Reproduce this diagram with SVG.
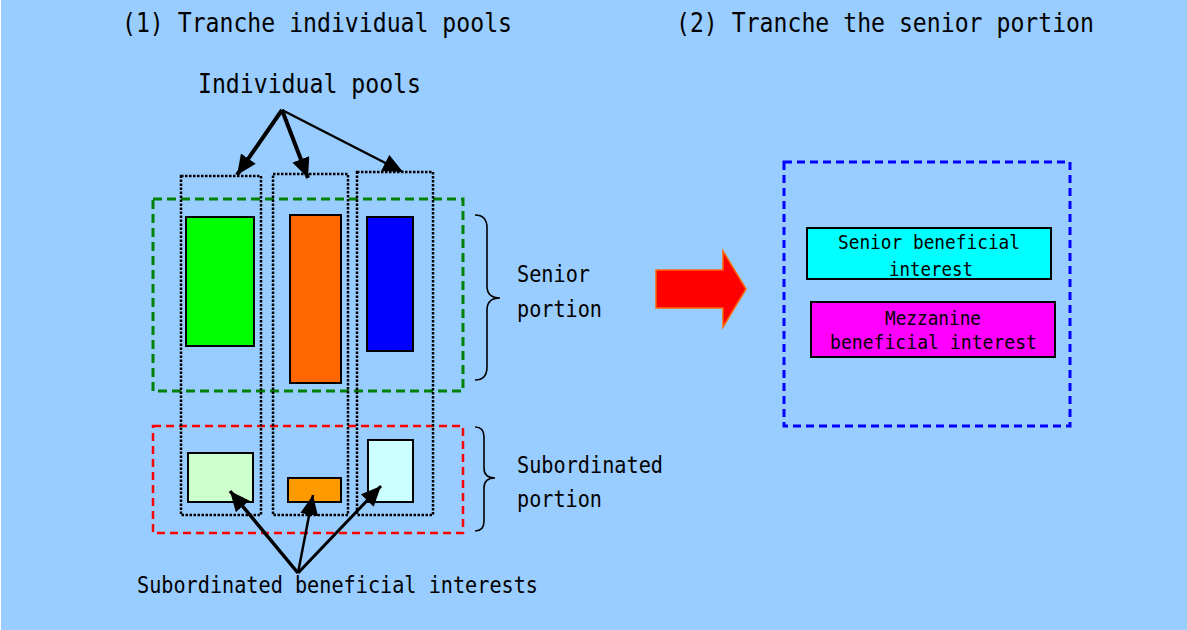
<svg xmlns="http://www.w3.org/2000/svg" width="1187" height="630" viewBox="0 0 1187 630">
<style>
text{font-family:"DejaVu Sans Mono","Liberation Mono",monospace;fill:#000}
.t1{font-size:26.5px}
.t2{font-size:23.5px}
.t3{font-size:20px}
.pool{fill:none;stroke:#000;stroke-width:2.5;stroke-dasharray:2.5 1.5}
.box{stroke:#000;stroke-width:2}
.arr{stroke:#000;fill:none}
.brace{fill:none;stroke:#000;stroke-width:1.6}
</style>
<defs>
<marker id="ah" markerUnits="userSpaceOnUse" markerWidth="22" markerHeight="20" refX="20" refY="9" orient="auto">
<path d="M0,0 L20,9 L0,18 z" fill="#000"/>
</marker>
</defs>
<rect x="1" y="0" width="1186" height="630" fill="#99CCFF"/>
<g id="titles">
<text class="t1" x="122" y="32" textLength="390" lengthAdjust="spacingAndGlyphs">(1) Tranche individual pools</text>
<text class="t1" x="676" y="32" textLength="418" lengthAdjust="spacingAndGlyphs">(2) Tranche the senior portion</text>
</g>
<g id="label-individual-pools">
<text class="t1" x="198" y="93" textLength="223" lengthAdjust="spacingAndGlyphs">Individual pools</text>
</g>
<g id="senior-portion-frame">
<rect x="153" y="199" width="310" height="192" fill="none" stroke="#008000" stroke-width="3" stroke-dasharray="9 5"/>
</g>
<g id="subordinated-portion-frame">
<rect x="153" y="426" width="310" height="107" fill="none" stroke="#FF0000" stroke-width="2.5" stroke-dasharray="8 5"/>
</g>
<g id="pool1">
<rect class="pool" x="181" y="176" width="80" height="339"/>
<rect class="box" x="186" y="217" width="68" height="129" fill="#00FF00"/>
<rect class="box" x="188" y="453" width="65" height="49" fill="#CCFFCC"/>
</g>
<g id="pool2">
<rect class="pool" x="273" y="174" width="75" height="341"/>
<rect class="box" x="290" y="215" width="51" height="168" fill="#FF6600"/>
<rect class="box" x="288" y="478" width="53" height="24" fill="#FF9900"/>
</g>
<g id="pool3">
<rect class="pool" x="357" y="172" width="76" height="343"/>
<rect class="box" x="367" y="217" width="46" height="134" fill="#0000FF"/>
<rect class="box" x="368" y="440" width="45" height="62" fill="#CCFFFF"/>
</g>
<g id="brace-senior">
<path class="brace" d="M475,215 Q487,215 487,228 L487,286 Q487,298 500,298 Q487,298 487,310 L487,367 Q487,380 475,380"/>
<text class="t2" x="517" y="282" textLength="73" lengthAdjust="spacingAndGlyphs">Senior</text>
<text class="t2" x="517" y="317" textLength="85" lengthAdjust="spacingAndGlyphs">portion</text>
</g>
<g id="brace-subordinated">
<path class="brace" d="M475,427 Q484,427 484,437 L484,468 Q484,478 495,478 Q484,478 484,488 L484,521 Q484,531 475,531"/>
<text class="t2" x="517" y="473" textLength="146" lengthAdjust="spacingAndGlyphs">Subordinated</text>
<text class="t2" x="517" y="507" textLength="85" lengthAdjust="spacingAndGlyphs">portion</text>
</g>
<g id="label-subordinated-interests">
<text class="t2" x="137" y="593" textLength="401" lengthAdjust="spacingAndGlyphs">Subordinated beneficial interests</text>
</g>
<g id="connectors">
<line class="arr" x1="282" y1="110" x2="237" y2="175" stroke-width="4" marker-end="url(#ah)"/>
<line class="arr" x1="282" y1="110" x2="308" y2="178" stroke-width="4" marker-end="url(#ah)"/>
<line class="arr" x1="282" y1="110" x2="403" y2="172" stroke-width="2.5" marker-end="url(#ah)"/>
<line class="arr" x1="298" y1="573" x2="230" y2="491" stroke-width="3.5" marker-end="url(#ah)"/>
<line class="arr" x1="298" y1="573" x2="313" y2="495" stroke-width="2.5" marker-end="url(#ah)"/>
<line class="arr" x1="298" y1="573" x2="381" y2="486" stroke-width="3" marker-end="url(#ah)"/>
</g>
<g id="big-arrow">
<polygon points="656,270 723,270 723,251 746,289 723,327 723,308 656,308" fill="#FF0000" stroke="#FF6600" stroke-width="1.5"/>
</g>
<g id="senior-tranche-frame">
<rect x="784" y="162" width="286" height="264" fill="none" stroke="#0000FF" stroke-width="3" stroke-dasharray="8 5"/>
</g>
<g id="senior-beneficial-interest">
<rect class="box" x="807" y="228" width="244" height="51" fill="#00FFFF"/>
<text class="t3" x="838" y="249" textLength="182" lengthAdjust="spacingAndGlyphs">Senior beneficial</text>
<text class="t3" x="889" y="276" textLength="84" lengthAdjust="spacingAndGlyphs">interest</text>
</g>
<g id="mezzanine-beneficial-interest">
<rect class="box" x="811" y="302" width="244" height="55" fill="#FF00FF"/>
<text class="t3" x="885" y="325" textLength="96" lengthAdjust="spacingAndGlyphs">Mezzanine</text>
<text class="t3" x="830" y="349" textLength="207" lengthAdjust="spacingAndGlyphs">beneficial interest</text>
</g>
</svg>
